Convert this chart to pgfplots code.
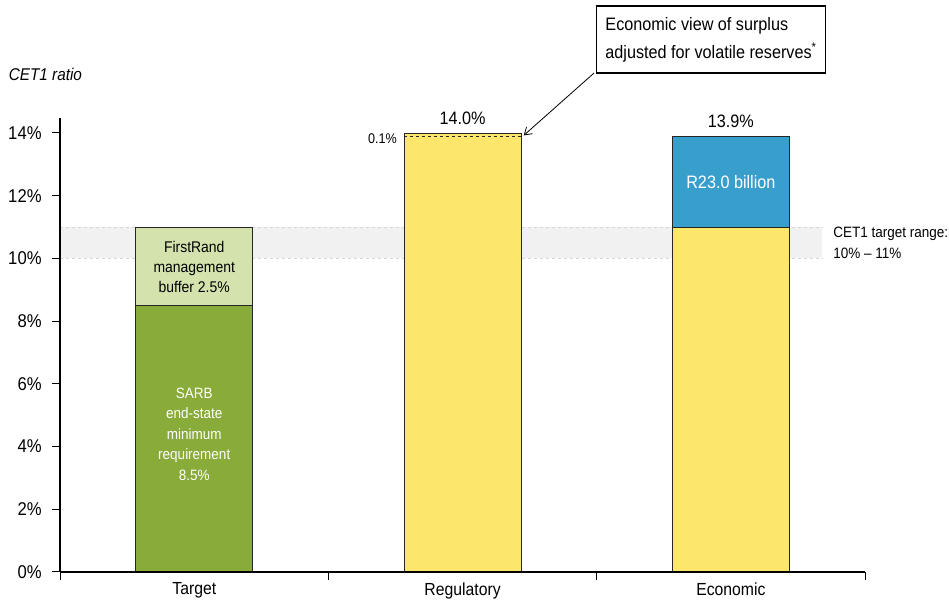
\documentclass[border=0pt]{standalone}
\usepackage{fontspec}
\setmainfont{Liberation Sans}[FakeStretch=0.9]
\usepackage{pgfplots}
\pgfplotsset{compat=1.18}
\usetikzlibrary{arrows.meta}
\definecolor{cyellow}{HTML}{FCE76C}
\definecolor{cblue}{HTML}{389FCD}
\definecolor{cgreen}{HTML}{88AB3A}
\definecolor{clgreen}{HTML}{D4E3AD}
\definecolor{cband}{HTML}{F1F1F1}
\definecolor{cdash}{HTML}{D6D6D6}
\begin{document}
\begin{tikzpicture}
\begin{axis}[
  width=805pt, height=454pt, scale only axis,
  xmin=-0.5, xmax=2.5, ymin=0, ymax=14.48,
  axis x line*=bottom, axis y line*=left,
  axis line style={-, line width=1.6pt, black},
  xtick={-0.5,0.5,1.5,2.5}, xticklabels={},
  extra x ticks={0,1,2},
  extra x tick labels={Target,Regulatory,Economic},
  extra x tick style={major tick length=0pt},
  ytick={0,2,4,6,8,10,12,14},
  yticklabel={\pgfmathprintnumber{\tick}\%},
  /pgf/number format/assume math mode=true,
  tick align=outside, major tick length=8pt,
  tick style={black, line width=1pt},
  x tick label style={font=\fontsize{17.5}{20}\selectfont, yshift=-7pt},
  y tick label style={font=\fontsize{18.5}{20}\selectfont, xshift=-7pt},
  clip=false, axis on top,
]
% target band
\addplot[draw=none, fill=cband] coordinates {(-0.5,10) (2.34,10) (2.34,11) (-0.5,11)} -- cycle;
\addplot[dashed, cdash, line width=0.9pt] coordinates {(-0.5,10) (2.34,10)};
\addplot[dashed, cdash, line width=0.9pt] coordinates {(-0.5,11) (2.34,11)};
% bars
\addplot[ybar, bar width=117pt, fill=clgreen, draw=black!85, line width=0.8pt] coordinates {(0,11)};
\addplot[ybar, bar width=117pt, fill=cgreen, draw=black!85, line width=0.8pt] coordinates {(0,8.5)};
\addplot[ybar, bar width=117pt, fill=cyellow, draw=black!85, line width=0.8pt] coordinates {(1,14.0)};
\addplot[ybar, bar width=117pt, fill=cblue, draw=black!85, line width=0.8pt] coordinates {(2,13.9)};
\addplot[ybar, bar width=117pt, fill=cyellow, draw=black!85, line width=0.8pt] coordinates {(2,11)};
% 0.1% dashed line
\addplot[dashed, black!85, line width=0.8pt] coordinates {(0.782,13.9) (1.218,13.9)};
% arrow
\addplot[-{Straight Barb[length=7pt,width=9pt,line width=0.8pt]}, black, line width=0.8pt] coordinates {(1.490,15.91) (1.228,13.92)};
% labels
\node[anchor=south, font=\fontsize{18}{20}\selectfont, yshift=5pt] at (axis cs:1,14.0) {14.0\%};
\node[anchor=south, font=\fontsize{18}{20}\selectfont, yshift=5pt] at (axis cs:2,13.9) {13.9\%};
\node[anchor=east, inner sep=0pt, font=\fontsize{14}{16}\selectfont] at (axis cs:0.756,13.81) {0.1\%};
\node[align=center, text=white, font=\fontsize{15}{20.5}\selectfont] at (axis cs:0,4.4) {SARB\\end-state\\minimum\\requirement\\8.5\%};
\node[align=center, font=\fontsize{15.5}{20}\selectfont] at (axis cs:0,9.73) {FirstRand\\management\\buffer 2.5\%};
\node[text=white, font=\fontsize{18}{20}\selectfont] at (axis cs:2,12.44) {R23.0 billion};
\node[draw, line width=1.2pt, fill=white, align=left, inner xsep=9pt, minimum height=67pt,
      font=\fontsize{18}{28}\selectfont] at (axis cs:1.926,16.98)
      {Economic view of surplus\\adjusted for volatile reserves\textsuperscript{*}};
\node[anchor=west, font=\itshape\fontsize{17}{20}\selectfont] at (axis cs:-0.704,15.85) {CET1 ratio};
\node[anchor=west, align=left, inner sep=0pt, font=\fontsize{15}{21}\selectfont] at (axis cs:2.381,10.5)
      {CET1 target range:\\10\% \textendash{} 11\%};
\path (axis cs:-0.724,18.24) rectangle (axis cs:2.813,-0.99);
\end{axis}
\end{tikzpicture}
\end{document}
